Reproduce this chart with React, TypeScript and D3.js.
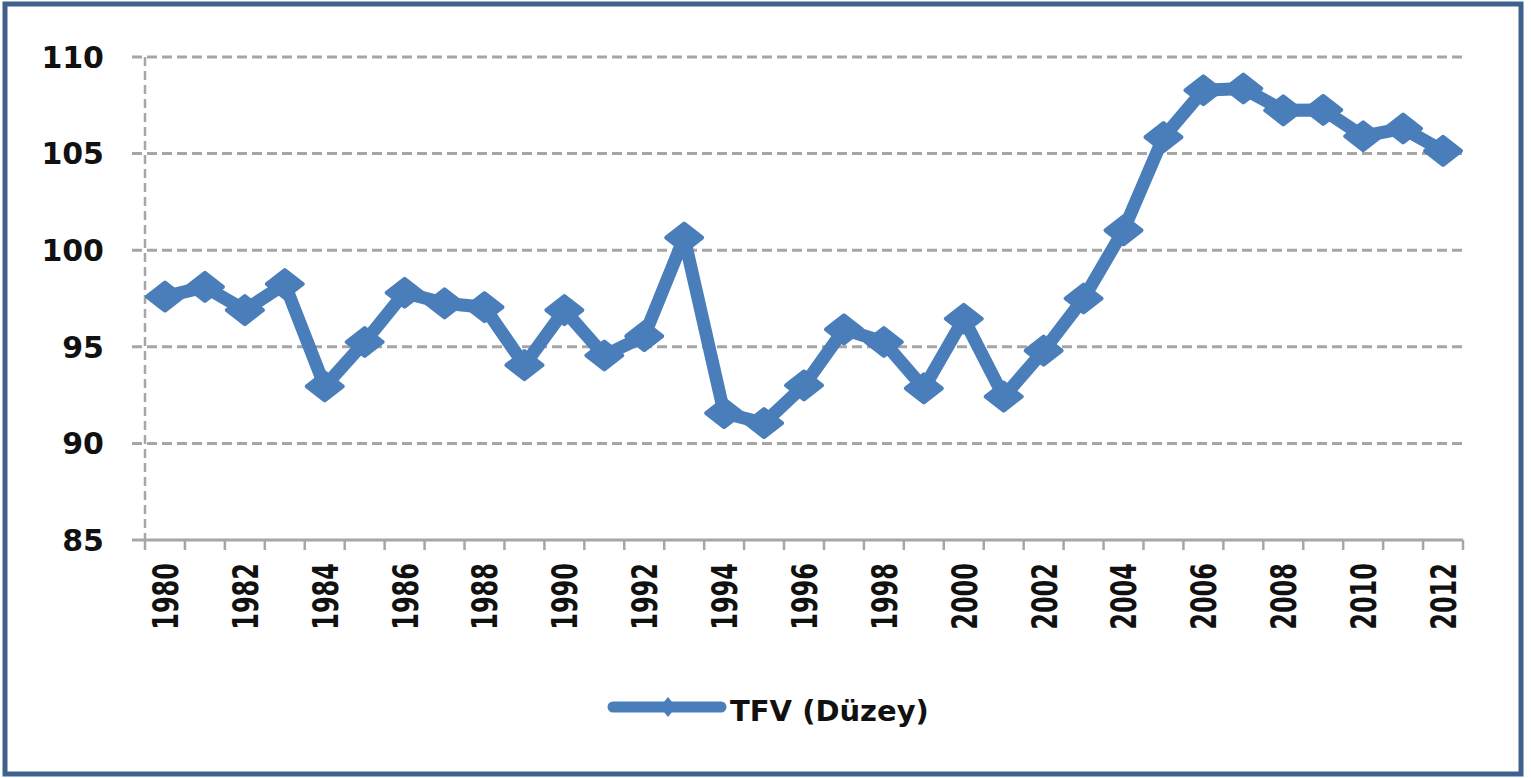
import React from "react";
import * as d3 from "d3";

const years: string[] = [
  "1980","1981","1982","1983","1984","1985","1986","1987","1988","1989",
  "1990","1991","1992","1993","1994","1995","1996","1997","1998","1999",
  "2000","2001","2002","2003","2004","2005","2006","2007","2008","2009",
  "2010","2011","2012",
];
const tfvValues: number[] = [
  97.6, 98.1, 96.9, 98.25, 92.95, 95.25, 97.8, 97.25, 97.05, 94.05,
  96.9, 94.55, 95.55, 100.65, 91.57, 91.05, 93.0, 95.9, 95.25, 92.85,
  96.45, 92.42, 94.8, 97.5, 101.03, 105.85, 108.28, 108.37, 107.24, 107.26,
  105.9, 106.3, 105.14,
];
const yTicks: number[] = [85, 90, 95, 100, 105, 110];
const xLabelYears: string[] = years.filter((_, i) => i % 2 === 0);
const seriesName = "TFV (Düzey)";

const W = 1531;
const H = 778;
const LEFT = 145;
const RIGHT = 1463;
const TOP = 57;
const BOTTOM = 540;
const BLUE = "#4a7ebb";
const GRID = "#a6a6a6";
const FONT = "'DejaVu Sans', Verdana, sans-serif";

export default function App() {
  const x = d3.scaleBand<string>().domain(years).range([LEFT, RIGHT]).paddingInner(0).paddingOuter(0);
  const y = d3.scaleLinear().domain([85, 110]).range([BOTTOM, TOP]);
  const bw = x.bandwidth();
  const cx = (yr: string) => (x(yr) as number) + bw / 2;

  const pts = years.map((yr, i) => ({ yr, v: tfvValues[i] }));
  const line = d3
    .line<{ yr: string; v: number }>()
    .x((d) => cx(d.yr))
    .y((d) => y(d.v));

  const diamond = (px: number, py: number, hw: number, hh: number) =>
    `M${px},${py - hh}L${px + hw},${py}L${px},${py + hh}L${px - hw},${py}Z`;

  const tickXs = d3.range(years.length + 1).map((i) => LEFT + i * bw);

  return (
    <svg
      width={W}
      height={H}
      style={{ position: "absolute", left: 0, top: 0, background: "#fff" }}
    >
      <rect x={0} y={0} width={W} height={H} fill="#fff" />
      {/* outer frame */}
      <rect x={5} y={4} width={1516} height={770} fill="none" stroke="#3f628c" strokeWidth={5} />

      {/* horizontal gridlines */}
      {yTicks
        .filter((t) => t !== 85)
        .map((t) => (
          <line
            key={"g" + t}
            x1={132}
            x2={RIGHT}
            y1={y(t)}
            y2={y(t)}
            stroke={GRID}
            strokeWidth={3}
            strokeDasharray="10 5"
          />
        ))}
      {/* vertical dashed axis */}
      <line x1={LEFT} x2={LEFT} y1={TOP} y2={BOTTOM} stroke={GRID} strokeWidth={2.5} strokeDasharray="9 5" />
      {/* x axis */}
      <line x1={132} x2={RIGHT} y1={BOTTOM} y2={BOTTOM} stroke={GRID} strokeWidth={3} />
      {tickXs.map((tx, i) => (
        <line key={"t" + i} x1={tx} x2={tx} y1={BOTTOM} y2={BOTTOM + 10} stroke={GRID} strokeWidth={2.5} />
      ))}

      {/* y labels */}
      {yTicks.map((t) => (
        <text
          key={"yl" + t}
          x={104}
          y={y(t)}
          dy="0.36em"
          textAnchor="end"
          fontFamily={FONT}
          fontWeight="bold"
          fontSize={30}
          fill="#111"
        >
          {t}
        </text>
      ))}

      {/* x labels */}
      {xLabelYears.map((yr) => (
        <text
          key={"xl" + yr}
          transform={`translate(${cx(yr)},${563}) rotate(-90) scale(1,1.5)`}
          dy="0.36em"
          textAnchor="end"
          fontFamily={FONT}
          fontWeight="bold"
          fontSize={24}
          fill="#111"
        >
          {yr}
        </text>
      ))}

      {/* series line */}
      <path
        d={line(pts) as string}
        fill="none"
        stroke={BLUE}
        strokeWidth={13}
        strokeLinejoin="round"
        strokeLinecap="round"
      />
      {pts.map((d) => (
        <path
          key={"m" + d.yr}
          d={diamond(cx(d.yr), y(d.v), 18, 14)}
          fill={BLUE}
          stroke={BLUE}
          strokeWidth={4}
          strokeLinejoin="round"
        />
      ))}

      {/* legend */}
      <line x1={613} x2={721} y1={707} y2={707} stroke={BLUE} strokeWidth={11} strokeLinecap="round" />
      <path d={diamond(668, 707, 8, 10)} fill={BLUE} />
      <text x={730} y={721} fontFamily={FONT} fontWeight="bold" fontSize={29} fill="#111">
        {seriesName}
      </text>
    </svg>
  );
}
